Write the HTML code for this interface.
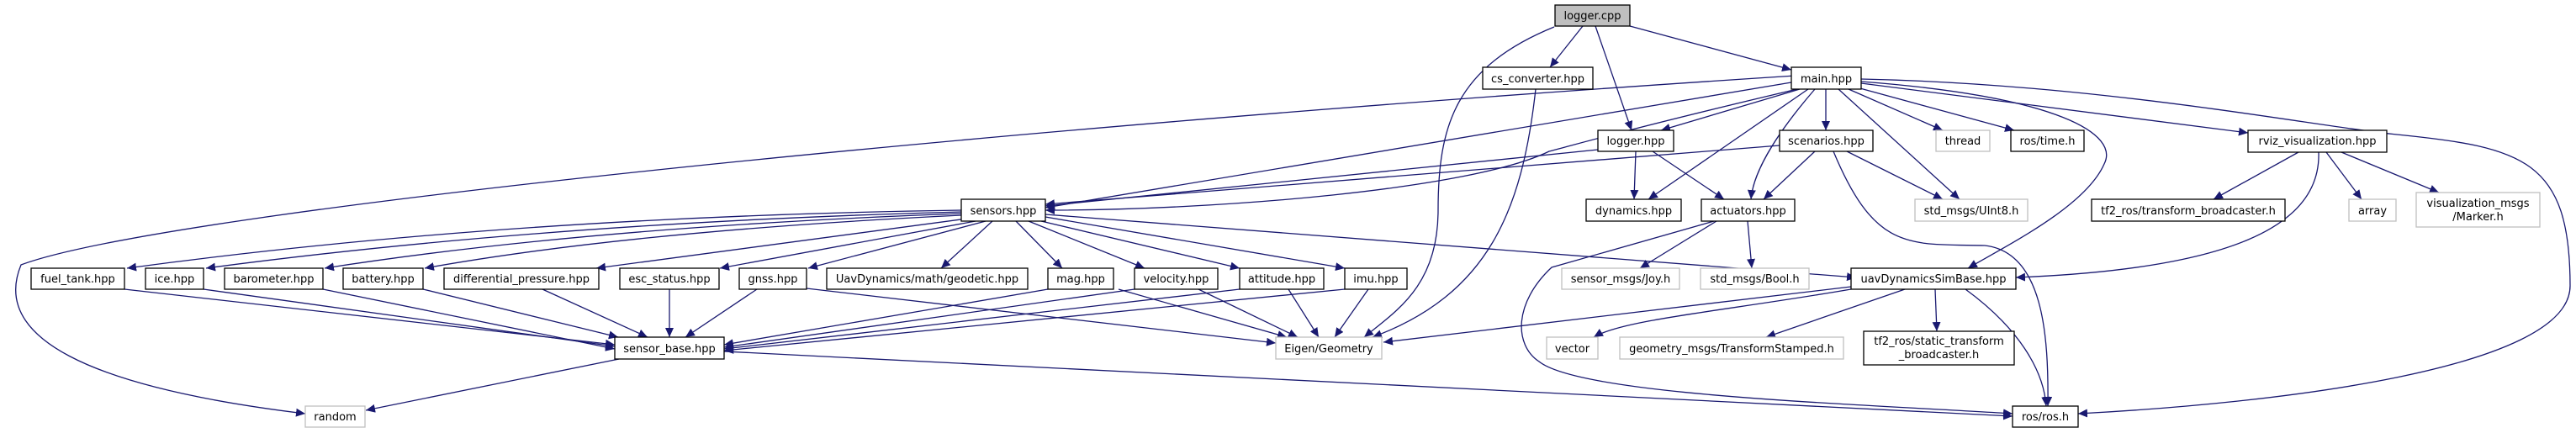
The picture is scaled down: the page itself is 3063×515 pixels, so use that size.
<!DOCTYPE html>
<html><head><meta charset="utf-8"><style>
html,body{margin:0;padding:0;background:#fff;}
svg{display:block;}
text{font-family:"DejaVu Sans","Liberation Sans",sans-serif;font-size:13px;fill:#000;}
.b{fill:#fff;stroke:#000;stroke-width:1.3;}
.g{fill:#fff;stroke:#bfbfbf;stroke-width:1.3;}
.e{fill:none;stroke:#191970;stroke-width:1.3;}
</style></head><body>
<svg width="3063" height="515" viewBox="0 0 3063 515" xmlns="http://www.w3.org/2000/svg">
<defs><marker id="a" markerUnits="userSpaceOnUse" markerWidth="12" markerHeight="10" refX="11" refY="5" orient="auto"><path d="M0,0 L11,5 L0,10 z" fill="#191970"/></marker></defs>
<g class="e" marker-end="url(#a)">
<path d="M1882,31 L1843,80"/>
<path d="M1897,31 L1940,155"/>
<path d="M1938,31 L2130,83"/>
<path d="M1848,32 C1730,80 1710,150 1710,250 C1710,340 1660,370 1622,401"/>
<path d="M1826,106 C1810,250 1770,350 1632,401"/>
<path d="M2140,106 L1975,155"/>
<path d="M2130,98 L1243,247"/>
<path d="M2137,106 C1950,150 1880,170 1842,180 C1750,225 1450,250 1243,250"/>
<path d="M1900,178 L1243,245"/>
<path d="M2116,173 L1243,243"/>
<path d="M2150,106 L1960,237"/>
<path d="M2158,106 C2120,150 2085,200 2082,237"/>
<path d="M2171,106 L2171,155"/>
<path d="M2186,106 L2330,237"/>
<path d="M2198,106 L2310,155"/>
<path d="M2208,104 L2395,155"/>
<path d="M2213,99 L2673,158"/>
<path d="M2213,97 C2450,115 2520,160 2502,195 C2480,245 2390,290 2340,319"/>
<path d="M2213,94 C2500,100 2750,150 2850,160 C3000,175 3056,190 3056,340 C3056,440 2700,480 2471,492"/>
<path d="M2135,90 C1200,150 200,250 25,315 C-10,400 100,460 363,492"/>
<path d="M1945,180 L1943,237"/>
<path d="M1965,180 L2050,237"/>
<path d="M2158,180 L2097,237"/>
<path d="M2196,180 L2310,237"/>
<path d="M2180,180 C2230,300 2270,290 2360,292 C2430,300 2436,400 2435,483"/>
<path d="M2733,181 L2632,237"/>
<path d="M2766,181 L2808,237"/>
<path d="M2784,181 L2900,229"/>
<path d="M2757,181 C2760,270 2650,320 2397,330"/>
<path d="M2041,263 L1950,319"/>
<path d="M2078,263 L2083,319"/>
<path d="M2038,263 L1845,318 C1800,360 1800,410 1830,430 C1880,470 2200,480 2393,492"/>
<path d="M1143,250 Q600,258 151,319"/>
<path d="M1143,252 Q650,265 245,319"/>
<path d="M1143,254 Q700,270 386,319"/>
<path d="M1143,256 Q750,275 505,319"/>
<path d="M1150,260 L709,319"/>
<path d="M1160,263 L856,319"/>
<path d="M1172,263 L961,319"/>
<path d="M1180,263 L1119,319"/>
<path d="M1208,263 L1263,319"/>
<path d="M1223,263 L1361,319"/>
<path d="M1238,263 L1474,319"/>
<path d="M1243,258 L1599,319"/>
<path d="M1243,255 L2207,330"/>
<path d="M148,344 L731,410"/>
<path d="M242,344 L731,412"/>
<path d="M384,344 L731,415"/>
<path d="M503,344 L735,401"/>
<path d="M645,344 L770,401"/>
<path d="M796,344 L796,401"/>
<path d="M900,344 L815,401"/>
<path d="M1246,344 L861,410"/>
<path d="M1349,344 L861,413"/>
<path d="M1474,344 L861,415"/>
<path d="M1599,344 L861,417"/>
<path d="M959,343 L1517,408"/>
<path d="M1330,344 L1530,401"/>
<path d="M1425,344 L1543,401"/>
<path d="M1532,344 L1568,401"/>
<path d="M1627,344 L1587,401"/>
<path d="M736,427 L435,488"/>
<path d="M861,418 L2393,495"/>
<path d="M2201,341 L1645,407"/>
<path d="M2201,344 C2050,370 1930,380 1895,401"/>
<path d="M2265,344 L2100,401"/>
<path d="M2301,344 L2303,394"/>
<path d="M2337,344 C2400,390 2430,440 2433,483"/>
</g>
<rect x="1849" y="6" width="89" height="25" fill="#bfbfbf" stroke="#000" stroke-width="1.3"/><text x="1893.5" y="23" text-anchor="middle">logger.cpp</text>
<g text-anchor="middle">
<rect class="b" x="1763" y="80" width="131" height="26"/><text x="1828.5" y="98">cs_converter.hpp</text>
<rect class="b" x="2130" y="80" width="83" height="26"/><text x="2171.5" y="98">main.hpp</text>
<rect class="b" x="1900" y="155" width="90" height="25"/><text x="1945" y="172">logger.hpp</text>
<rect class="b" x="2116" y="155" width="111" height="25"/><text x="2171.5" y="172">scenarios.hpp</text>
<rect class="g" x="2302" y="155" width="64" height="25"/><text x="2334" y="172">thread</text>
<rect class="b" x="2391" y="155" width="87" height="25"/><text x="2434.5" y="172">ros/time.h</text>
<rect class="b" x="2673" y="155" width="165" height="26"/><text x="2755.5" y="172">rviz_visualization.hpp</text>
<rect class="b" x="1143" y="237" width="100" height="26"/><text x="1193" y="255">sensors.hpp</text>
<rect class="b" x="1886" y="237" width="113" height="26"/><text x="1942.5" y="255">dynamics.hpp</text>
<rect class="b" x="2023" y="237" width="111" height="26"/><text x="2078.5" y="255">actuators.hpp</text>
<rect class="g" x="2277" y="237" width="134" height="26"/><text x="2344" y="255">std_msgs/UInt8.h</text>
<rect class="b" x="2487" y="237" width="230" height="26"/><text x="2602" y="255">tf2_ros/transform_broadcaster.h</text>
<rect class="g" x="2793" y="237" width="56" height="26"/><text x="2821" y="255">array</text>
<rect class="g" x="2873" y="229" width="147" height="41"/><text x="2946.5" y="246">visualization_msgs</text><text x="2946.5" y="262">/Marker.h</text>
<rect class="b" x="37" y="319" width="111" height="25"/><text x="92.5" y="336">fuel_tank.hpp</text>
<rect class="b" x="173" y="319" width="69" height="25"/><text x="207.5" y="336">ice.hpp</text>
<rect class="b" x="267" y="319" width="117" height="25"/><text x="325.5" y="336">barometer.hpp</text>
<rect class="b" x="408" y="319" width="95" height="25"/><text x="455.5" y="336">battery.hpp</text>
<rect class="b" x="528" y="319" width="184" height="25"/><text x="620" y="336">differential_pressure.hpp</text>
<rect class="b" x="737" y="319" width="118" height="25"/><text x="796" y="336">esc_status.hpp</text>
<rect class="b" x="879" y="319" width="80" height="25"/><text x="919" y="336">gnss.hpp</text>
<rect class="b" x="983" y="319" width="239" height="25"/><text x="1102.5" y="336">UavDynamics/math/geodetic.hpp</text>
<rect class="b" x="1246" y="319" width="78" height="25"/><text x="1285" y="336">mag.hpp</text>
<rect class="b" x="1349" y="319" width="99" height="25"/><text x="1398.5" y="336">velocity.hpp</text>
<rect class="b" x="1474" y="319" width="100" height="25"/><text x="1524" y="336">attitude.hpp</text>
<rect class="b" x="1599" y="319" width="74" height="25"/><text x="1636" y="336">imu.hpp</text>
<rect class="g" x="1857" y="319" width="140" height="25"/><text x="1927" y="336">sensor_msgs/Joy.h</text>
<rect class="g" x="2022" y="319" width="129" height="25"/><text x="2086.5" y="336">std_msgs/Bool.h</text>
<rect class="b" x="2201" y="319" width="196" height="25"/><text x="2299" y="336">uavDynamicsSimBase.hpp</text>
<rect class="b" x="731" y="401" width="130" height="26"/><text x="796" y="419">sensor_base.hpp</text>
<rect class="g" x="1517" y="401" width="126" height="26"/><text x="1580" y="419">Eigen/Geometry</text>
<rect class="g" x="1839" y="401" width="61" height="26"/><text x="1869.5" y="419">vector</text>
<rect class="g" x="1926" y="401" width="266" height="26"/><text x="2059" y="419">geometry_msgs/TransformStamped.h</text>
<rect class="b" x="2216" y="394" width="179" height="40"/><text x="2305.5" y="410">tf2_ros/static_transform</text><text x="2305.5" y="426">_broadcaster.h</text>
<rect class="g" x="363" y="483" width="71" height="25"/><text x="398.5" y="500">random</text>
<rect class="b" x="2393" y="483" width="78" height="25"/><text x="2432" y="500">ros/ros.h</text>
</g>
</svg>
</body></html>
